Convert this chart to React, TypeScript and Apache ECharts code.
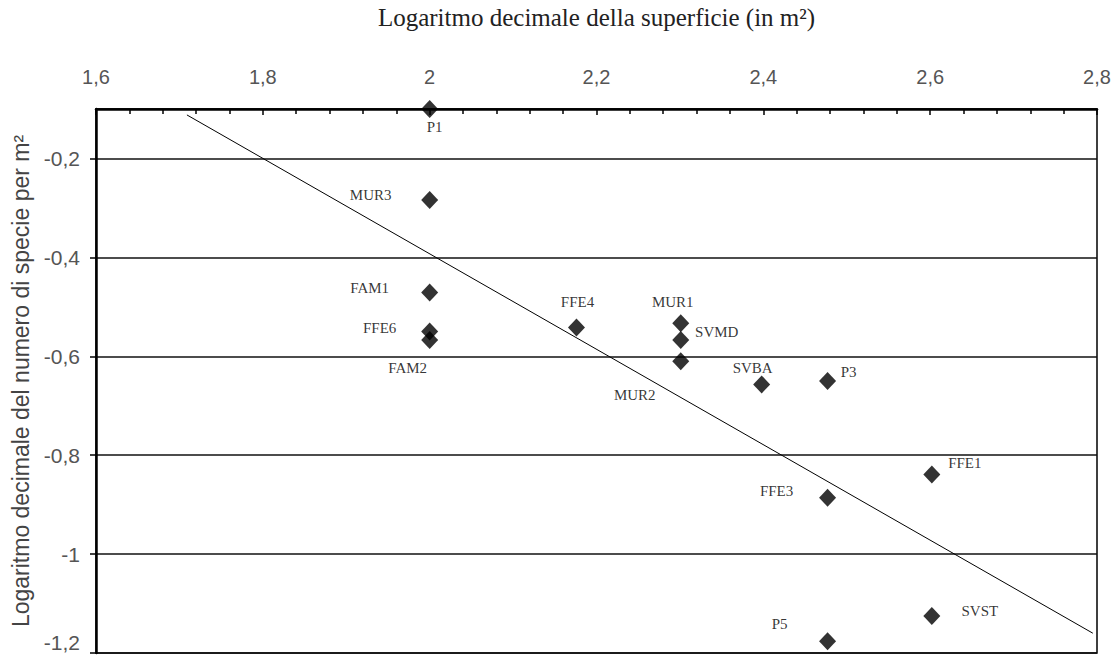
import React, { useEffect, useRef } from "react";
import * as echarts from "echarts";

const pointNames = ["P1", "MUR3", "FAM1", "FFE6", "FAM2", "FFE4", "MUR1", "SVMD", "MUR2", "SVBA", "P3", "FFE1", "FFE3", "SVST", "P5"];
const logArea = [2.0, 2.0, 2.0, 2.0, 2.0, 2.176, 2.301, 2.301, 2.301, 2.398, 2.477, 2.602, 2.477, 2.602, 2.477];
const logSpecies = [-0.1, -0.284, -0.471, -0.55, -0.567, -0.542, -0.533, -0.567, -0.61, -0.657, -0.65, -0.839, -0.886, -1.125, -1.176];
// label offsets (dx, dy) relative to marker centre
const labelDx = [5, -59, -60, -50, -22, 1, -8, 36, -46, -9, 21, 33, -51, 48, -48];
const labelDy = [18, -5, -4, -4, 28, -26, -21, -8, 34, -16, -9, -11, -7, -5, -17];
const trendX = [1.709, 2.795];
const trendY = [-0.112, -1.16];

const xTitle = "Logaritmo decimale della superficie (in m²)";
const yTitle = "Logaritmo decimale del numero di specie per m²";

const fmt = (v: number) => {
  const r = Math.round(v * 10) / 10;
  return String(r).replace(".", ",");
};

export default function App() {
  const ref = useRef<HTMLDivElement>(null);
  useEffect(() => {
    if (!ref.current) return;
    const chart = echarts.init(ref.current, null, { renderer: "svg" });
    const scatterData = pointNames.map((n, i) => ({
      name: n,
      value: [logArea[i], logSpecies[i]],
      label: { offset: [labelDx[i], labelDy[i]] },
    }));
    chart.setOption({
      animation: false,
      backgroundColor: "#fff",
      grid: {
        left: 96,
        right: 19,
        top: 109,
        bottom: 6,
        containLabel: false,
        outerBoundsMode: "none",
        show: true,
        borderColor: "#000",
        borderWidth: 1.5,
      },
      xAxis: {
        type: "value",
        position: "top",
        min: 1.6,
        max: 2.8,
        interval: 0.2,
        name: xTitle,
        nameLocation: "middle",
        nameGap: 79,
        nameTextStyle: { fontFamily: "Liberation Serif", fontSize: 25, color: "#222" },
        axisLine: { show: true, lineStyle: { color: "#000", width: 2.5 } },
        axisTick: { show: true, inside: true, length: 6, lineStyle: { color: "#000", width: 1.5 } },
        minorTick: { show: true, splitNumber: 5, length: 5, lineStyle: { color: "#000", width: 1.5 } },
        splitLine: { show: false },
        axisLabel: {
          margin: 22,
          fontFamily: "Liberation Sans",
          fontSize: 20,
          color: "#555",
          formatter: (v: number) => fmt(v),
        },
      },
      yAxis: {
        type: "value",
        min: -1.2,
        max: -0.1,
        interval: 0.2,
        name: yTitle,
        nameLocation: "middle",
        nameGap: 61,
        nameTextStyle: { fontFamily: "Liberation Sans", fontSize: 23, color: "#444" },
        axisLine: { show: true, lineStyle: { color: "#000", width: 2.5 } },
        axisTick: { show: true, inside: false, length: 6, lineStyle: { color: "#000", width: 1.5 } },
        splitLine: { show: true, lineStyle: { color: "#111", width: 1.5 } },
        axisLabel: {
          showMaxLabel: false,
          margin: 16,
          verticalAlignMinLabel: "bottom",
          fontFamily: "Liberation Sans",
          fontSize: 21,
          color: "#555",
          formatter: (v: number) => fmt(v),
        },
      },
      series: [
        {
          type: "line",
          data: trendX.map((x, i) => [x, trendY[i]]),
          symbol: "none",
          lineStyle: { color: "#000", width: 1 },
          z: 3,
        },
        {
          type: "scatter",
          data: scatterData,
          symbol: "diamond",
          symbolSize: [17, 18],
          itemStyle: { color: "#000" },
          z: 4,
          label: {
            show: true,
            position: "inside",
            formatter: "{b}",
            fontFamily: "Liberation Serif",
            fontSize: 15,
            color: "#000",
            align: "center",
            verticalAlign: "middle",
          },
        },
      ],
    });
    return () => chart.dispose();
  }, []);
  return (
    <div
      ref={ref}
      style={{ position: "fixed", left: 0, top: 0, width: 1116, height: 659 }}
    />
  );
}
